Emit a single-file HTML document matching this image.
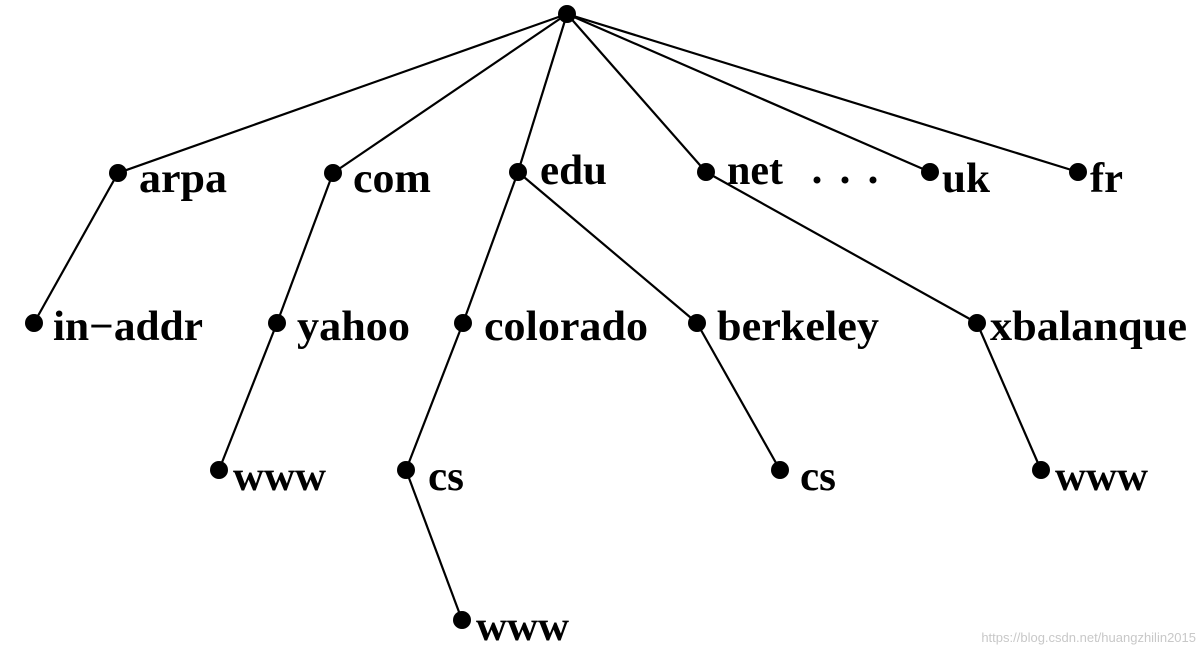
<!DOCTYPE html>
<html><head><style>html,body{margin:0;padding:0;background:#fff;}svg{display:block}</style></head>
<body>
<svg width="1202" height="656" viewBox="0 0 1202 656" xmlns="http://www.w3.org/2000/svg">
<g stroke="#000" stroke-width="2.2" fill="none">
<line x1="567" y1="14" x2="118" y2="173"/>
<line x1="567" y1="14" x2="333" y2="173"/>
<line x1="567" y1="14" x2="518" y2="172"/>
<line x1="567" y1="14" x2="706" y2="172"/>
<line x1="567" y1="14" x2="930" y2="172"/>
<line x1="567" y1="14" x2="1078" y2="172"/>
<line x1="118" y1="173" x2="34" y2="323"/>
<line x1="333" y1="173" x2="277" y2="323"/>
<line x1="277" y1="323" x2="219" y2="470"/>
<line x1="518" y1="172" x2="463" y2="323"/>
<line x1="463" y1="323" x2="406" y2="470"/>
<line x1="406" y1="470" x2="462" y2="620"/>
<line x1="518" y1="172" x2="697" y2="323"/>
<line x1="697" y1="323" x2="780" y2="470"/>
<line x1="706" y1="172" x2="977" y2="323"/>
<line x1="977" y1="323" x2="1041" y2="470"/>
</g>
<g fill="#000">
<circle cx="567" cy="14" r="9"/>
<circle cx="118" cy="173" r="9"/><circle cx="333" cy="173" r="9"/><circle cx="518" cy="172" r="9"/>
<circle cx="706" cy="172" r="9"/><circle cx="930" cy="172" r="9"/><circle cx="1078" cy="172" r="9"/>
<circle cx="34" cy="323" r="9"/><circle cx="277" cy="323" r="9"/><circle cx="463" cy="323" r="9"/>
<circle cx="697" cy="323" r="9"/><circle cx="977" cy="323" r="9"/>
<circle cx="219" cy="470" r="9"/><circle cx="406" cy="470" r="9"/><circle cx="780" cy="470" r="9"/><circle cx="1041" cy="470" r="9"/>
<circle cx="462" cy="620" r="9"/>
<circle cx="817" cy="180" r="3.5"/><circle cx="845" cy="180" r="3.5"/><circle cx="873" cy="180" r="3.5"/>
</g>
<g font-family="Liberation Serif, serif" font-weight="bold" font-size="42" fill="#000">
<text x="139" y="192" textLength="88" lengthAdjust="spacingAndGlyphs">arpa</text>
<text x="353" y="192" textLength="78" lengthAdjust="spacingAndGlyphs">com</text>
<text x="540" y="184" textLength="67" lengthAdjust="spacingAndGlyphs">edu</text>
<text x="727" y="184" textLength="56" lengthAdjust="spacingAndGlyphs">net</text>
<text x="942" y="192" textLength="48" lengthAdjust="spacingAndGlyphs">uk</text>
<text x="1090" y="192" textLength="33" lengthAdjust="spacingAndGlyphs">fr</text>
<text x="53" y="340" textLength="150" lengthAdjust="spacingAndGlyphs">in−addr</text>
<text x="297" y="340" textLength="113" lengthAdjust="spacingAndGlyphs">yahoo</text>
<text x="484" y="340" textLength="164" lengthAdjust="spacingAndGlyphs">colorado</text>
<text x="717" y="340" textLength="162" lengthAdjust="spacingAndGlyphs">berkeley</text>
<text x="990" y="340" textLength="197" lengthAdjust="spacingAndGlyphs">xbalanque</text>
<text x="233" y="490" textLength="93" lengthAdjust="spacingAndGlyphs">www</text>
<text x="428" y="490" textLength="36" lengthAdjust="spacingAndGlyphs">cs</text>
<text x="800" y="490" textLength="36" lengthAdjust="spacingAndGlyphs">cs</text>
<text x="1055" y="490" textLength="93" lengthAdjust="spacingAndGlyphs">www</text>
<text x="476" y="640" textLength="93" lengthAdjust="spacingAndGlyphs">www</text>
</g>
<text x="1196" y="642" text-anchor="end" font-family="Liberation Sans, sans-serif" font-size="13" fill="#c8c8c8">https://blog.csdn.net/huangzhilin2015</text>
</svg>
</body></html>
